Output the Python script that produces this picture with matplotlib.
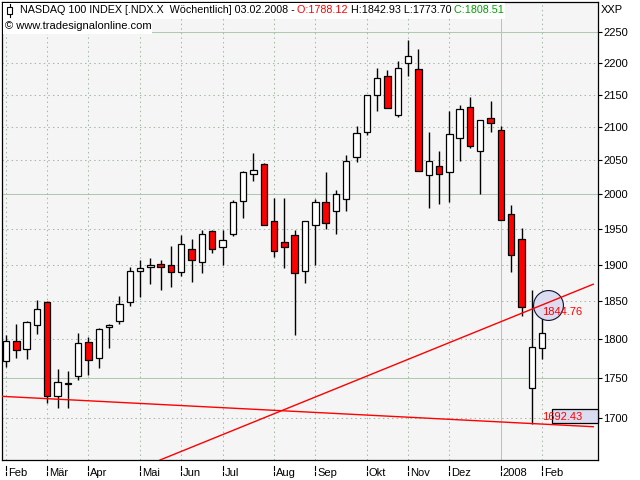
import matplotlib
matplotlib.use("Agg")
import matplotlib.pyplot as plt
import matplotlib.transforms as mtrans
from matplotlib.patches import Rectangle
from matplotlib.text import Annotation
from matplotlib.lines import Line2D
from matplotlib.ticker import FixedLocator, NullLocator, FixedFormatter
import numpy as np

# ---- data (weekly NASDAQ 100, Feb 2007 - Feb 2008) ----
opens = [1772, 1797, 1787, 1818, 1849, 1727, 1742, 1752, 1796, 1776,
         1816.5, 1824, 1849, 1891, 1896.5, 1901, 1899, 1890.5, 1922, 1904,
         1947, 1925, 1943, 1990.5, 2030, 2045, 1962, 1932, 1942, 1891,
         1955, 1989, 1976, 1993, 2055, 2093, 2150, 2180, 2119, 2200,
         2190, 2028.6, 2041, 2032, 2083, 2131, 2064, 2114, 2095.5, 1972,
         1936, 1737, 1788.12]
highs = [1806, 1820, 1824, 1852, 1850, 1761, 1759, 1808, 1803, 1814,
         1820, 1857, 1897, 1907, 1909, 1906, 1926, 1942, 1936.5, 1948,
         1949, 1948, 1991, 2034, 2061, 2046, 1994, 1995, 1948, 1962,
         1993, 2033, 2006.5, 2058, 2101, 2150, 2193, 2189, 2203, 2238,
         2223, 2093, 2064, 2124.5, 2134, 2147, 2111, 2140, 2101, 1984,
         1951, 1865, 1842.93]
lows = [1764, 1776, 1774, 1807, 1718, 1712, 1712, 1747, 1753, 1762,
        1788, 1820, 1844, 1856, 1874, 1866, 1869, 1884, 1876, 1888,
        1916, 1899, 1940, 1965.5, 2019, 1955, 1911, 1896, 1806, 1875,
        1899, 1950, 1943, 1975.5, 2047, 2087.5, 2124, 2129, 2115, 2179,
        2034, 1980, 1986, 1988.6, 2049, 2069, 2000, 2092, 1963, 1889.5,
        1830, 1692.43, 1773.70]
closes = [1798, 1786, 1822, 1840, 1726.5, 1745, 1744, 1795, 1773, 1813,
          1818, 1846, 1891, 1895, 1899, 1896.5, 1890, 1929, 1906, 1943,
          1922, 1935, 1989, 2033, 2036, 1955.5, 1918.5, 1925, 1888, 1962,
          1989, 1959, 2001, 2049, 2091, 2149.5, 2177, 2130, 2192, 2211,
          2034, 2048.7, 2029, 2089, 2128, 2071, 2111, 2106, 1963.4, 1913,
          1843, 1790, 1808.51]

month_pos = [0, 4, 8, 13, 17, 21, 26, 30, 35, 39, 43, 48, 52]
month_labels = ['Feb', 'Mär', 'Apr', 'Mai', 'Jun', 'Jul', 'Aug', 'Sep',
                'Okt', 'Nov', 'Dez', '2008', 'Feb']
year_pos = 48
y_ticks = list(range(1700, 2251, 50))
major_levels = [1750, 2000, 2250]

# trendlines (index, value)
support_x = [-0.39, 56.96]
support_y = [1726.6, 1688.9]
rising_x = [14.94, 56.96]
rising_y = [1648.5, 1873.3]
circle_value = 1844.76
low_value = 1692.43

plt.rcParams['font.family'] = ['Liberation Sans', 'DejaVu Sans']

# ---- figure ----
W, H = 640, 480
fig = plt.figure(figsize=(6.4, 4.8), dpi=100)
fig.patch.set_facecolor('white')
L_px, R_px, T_px, B_px = 2, 598, 2, 460
ax = fig.add_axes([L_px / W, 1 - B_px / H, (R_px - L_px) / W, (B_px - T_px) / H])
ax.set_facecolor('#f5f5f5')
ax.set_yscale('log')
ax.set_ylim(1648.5, 2300)
ax.set_xlim(-0.39, 57.42)

grid_solid = '#b0cab0'
grid_dot = '#a4baa4'
dot_ls = (0, (1.4, 3.0))
for lv in y_ticks:
    if lv in major_levels:
        ax.axhline(lv, color=grid_solid, lw=0.75, zorder=0.5)
    else:
        ax.axhline(lv, color=grid_dot, lw=0.75, ls=dot_ls, zorder=0.5)
for p in month_pos:
    if p == year_pos:
        ax.axvline(p, color=grid_solid, lw=0.75, zorder=0.5)
    else:
        ax.axvline(p, color=grid_dot, lw=0.75, ls=dot_ls, zorder=0.5)

# candles
x = np.arange(len(opens))
o = np.array(opens, float)
c = np.array(closes, float)
up = c >= o
colors = ['white' if u else '#ff0000' for u in up]
ax.vlines(x, lows, highs, color='black', lw=1.0, zorder=2)
ax.bar(x, np.abs(c - o), bottom=np.minimum(o, c), width=0.62, color=colors,
       edgecolor='black', linewidth=0.9, zorder=3)

# annotations
ax.plot([52.54], [circle_value], marker='o', ms=21.5, mfc='#dcdcf0',
        mec='#101030', mew=0.8, zorder=4, ls='none')
ax.plot(support_x, support_y, color='#ff0000', lw=1.0, zorder=5)
ax.plot(rising_x, rising_y, color='#ff0000', lw=1.0, zorder=5)
ax.add_patch(Rectangle((52.99, 1693.0), 57.42 - 52.99, 1710.6 - 1693.0,
                       facecolor='#dcdcf0', edgecolor='black', lw=0.9, zorder=4,
                       clip_on=False))
ax.text(52.02, 1835.3, f"{circle_value:.2f}", color='#ff0000', fontsize=8,
        ha='left', va='center', zorder=6)
ax.text(52.02, 1701.0, f"{low_value:.2f}", color='#ff0000', fontsize=8,
        ha='left', va='center', zorder=6)

# axes styling
for s in ax.spines.values():
    s.set_color('black')
    s.set_linewidth(0.9)
ax.yaxis.tick_right()
ax.yaxis.set_major_locator(FixedLocator(y_ticks))
ax.yaxis.set_major_formatter(FixedFormatter([str(v) for v in y_ticks]))
ax.yaxis.set_minor_locator(NullLocator())
ax.tick_params(axis='y', which='major', direction='out', length=3, width=0.8,
               pad=1, labelsize=8, colors='black')
ax.set_xticks(month_pos)
ax.set_xticklabels([''] * len(month_pos))
ax.tick_params(axis='x', direction='out', length=0)
xt = ax.get_xaxis_transform()
for p, lab in zip(month_pos, month_labels):
    for y0, y1 in [(-6, -10), (-12, -15)]:
        seg_tr = xt + mtrans.ScaledTranslation(0, 0, fig.dpi_scale_trans)
        ax.add_line(Line2D([p, p], [0, 0], color='black', lw=0.8, clip_on=False,
                           transform=xt + mtrans.ScaledTranslation(0, y0 / 100, fig.dpi_scale_trans)))
        ln = ax.lines[-1]
        ln.set_data([p, p], [0, (y1 - y0) / (B_px - T_px)])
    ax.text(p, 0, lab, transform=xt + mtrans.ScaledTranslation(1.8 / 100, -8 / 100, fig.dpi_scale_trans),
            ha='left', va='top', fontsize=8, clip_on=False)

# header
fx = lambda px: px / W
fy = lambda py: 1 - py / H
fig.add_artist(Rectangle((fx(3), fy(19)), fx(505) - fx(3), fy(3) - fy(19),
                         transform=fig.transFigure, facecolor='white',
                         edgecolor='none', zorder=2))
fig.add_artist(Rectangle((fx(3), fy(34)), fx(152) - fx(3), fy(19) - fy(34),
                         transform=fig.transFigure, facecolor='white',
                         edgecolor='none', zorder=2))
fig.add_artist(Line2D([fx(9.5), fx(9.5)], [fy(17), fy(4)], transform=fig.transFigure,
                      color='black', lw=0.8, zorder=3))
fig.add_artist(Rectangle((fx(7), fy(14)), fx(12) - fx(7), fy(7) - fy(14),
                         transform=fig.transFigure, facecolor='white',
                         edgecolor='black', lw=0.8, zorder=4))

hfs = 7.75
hdr = [("NASDAQ 100 INDEX [.NDX.X  Wöchentlich] 03.02.2008 -", 'black'),
       (f" O:{opens[-1]:.2f}", '#ff0000'),
       (f" H:{highs[-1]:.2f} L:{lows[-1]:.2f}", 'black'),
       (f" C:{closes[-1]:.2f}", '#00a000')]
t = fig.text(fx(19.5), fy(10), hdr[0][0], color=hdr[0][1], fontsize=hfs,
             ha='left', va='center', zorder=5)
for s, col in hdr[1:]:
    a = Annotation(s, xy=(1, 0.5), xycoords=t, color=col, fontsize=hfs,
                   ha='left', va='center', zorder=5, annotation_clip=False)
    fig.add_artist(a)
    t = a
fig.text(fx(5), fy(26), "© www.tradesignalonline.com", color='black', fontsize=8,
         ha='left', va='center', zorder=5)
fig.text(fx(601), fy(10), "XXP", color='black', fontsize=8, ha='left', va='center')

fig.savefig("out.png", dpi=100, facecolor='white')
